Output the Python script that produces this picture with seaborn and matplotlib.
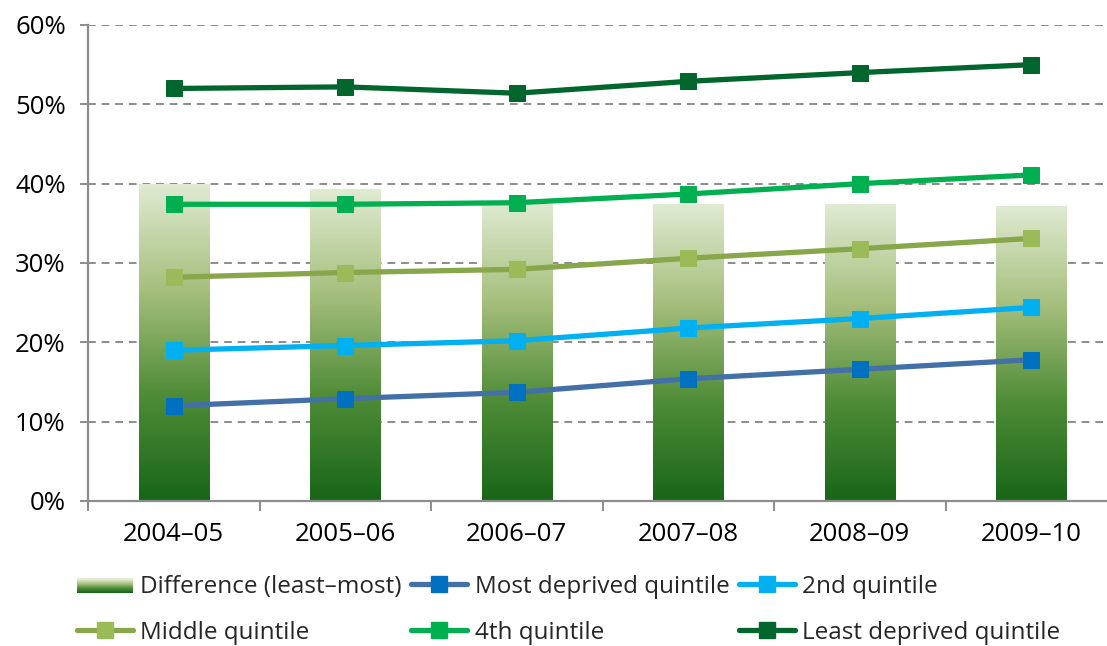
"""Difference between least and most deprived quintiles"""
import numpy as np
import pandas as pd
import matplotlib
matplotlib.use("Agg")
import matplotlib.pyplot as plt
from matplotlib.colors import LinearSegmentedColormap
from matplotlib.legend_handler import HandlerBase
from matplotlib.patches import Rectangle, Patch
from matplotlib.lines import Line2D
from matplotlib.ticker import PercentFormatter
import seaborn as sns

years = ["2004–05", "2005–06", "2006–07", "2007–08", "2008–09", "2009–10"]
most_deprived = [12.0, 12.9, 13.7, 15.4, 16.6, 17.8]
second_q = [19.0, 19.6, 20.2, 21.8, 23.0, 24.4]
middle_q = [28.2, 28.8, 29.2, 30.6, 31.8, 33.1]
fourth_q = [37.4, 37.4, 37.6, 38.7, 40.0, 41.1]
least_deprived = [52.0, 52.2, 51.4, 52.9, 54.0, 55.0]
difference = [40.0, 39.3, 37.7, 37.5, 37.4, 37.2]

# name, line colour, marker colour, values
series = [
    ("Most deprived quintile", "#4470a8", "#0070c0", most_deprived),
    ("2nd quintile", "#00b0f0", "#00b0f0", second_q),
    ("Middle quintile", "#88a64a", "#9bbb59", middle_q),
    ("4th quintile", "#00b050", "#00b050", fourth_q),
    ("Least deprived quintile", "#00662e", "#00662e", least_deprived),
]

grad = LinearSegmentedColormap.from_list(
    "bargrad", ["#186619", "#4f8c37", "#a6bf7d", "#e0ebd3"])

sns.set_style("white")
plt.rcParams["font.family"] = ["Open Sans", "DejaVu Sans"]

fig = plt.figure(figsize=(11.07, 6.46), dpi=100)
ax = fig.add_axes([88 / 1107, 145 / 646, (1117 - 88) / 1107, 476 / 646])

df = pd.DataFrame({"year": years, "diff": difference})
sns.barplot(data=df, x="year", y="diff", ax=ax, width=0.41,
            color="#a6bf7d", linewidth=0, zorder=2)

# gradient fill inside every bar
img = np.linspace(0, 1, 256).reshape(-1, 1)
for p in ax.patches:
    x0, y0 = p.get_x(), p.get_y()
    w, h = p.get_width(), p.get_height()
    p.set_facecolor("none")
    im = ax.imshow(img, cmap=grad, aspect="auto", origin="lower",
                   extent=[x0, x0 + w, y0, y0 + h], zorder=2)
    im.set_clip_path(p)

xs = np.arange(len(years))
for name, lc, mc, vals in series:
    sns.lineplot(x=xs, y=vals, ax=ax, color=lc, linewidth=3.8, marker="s",
                 markersize=11, markerfacecolor=mc, markeredgecolor=mc,
                 zorder=4, legend=False)

ax.set_xlim(-0.5, 5.5)
ax.set_ylim(0, 60)
ax.set_yticks(range(0, 61, 10))
ax.yaxis.set_major_formatter(PercentFormatter(decimals=0))
ax.set_xticks(xs)
ax.set_xticklabels(years)
ax.set_xticks(np.arange(-0.5, 6, 1), minor=True)
ax.set_xlabel("")
ax.set_ylabel("")

ax.grid(axis="y", color="#8c8c8c", linestyle=(0, (4, 3)), linewidth=1.4)
ax.set_axisbelow(True)
for s in ["top", "right"]:
    ax.spines[s].set_visible(False)
for s in ["left", "bottom"]:
    ax.spines[s].set_color("#8c8c8c")
    ax.spines[s].set_linewidth(1.6)

ax.tick_params(axis="x", which="major", length=0, pad=15, labelsize=18.5,
               colors="black")
ax.tick_params(axis="x", which="minor", length=7, width=1.4,
               color="#8c8c8c", bottom=True)
ax.tick_params(axis="y", length=6, width=1.4, color="#8c8c8c", pad=10,
               labelsize=18.5, labelcolor="black", left=True)


class GradientHandler(HandlerBase):
    def create_artists(self, legend, orig_handle, xdescent, ydescent,
                       width, height, fontsize, trans):
        arts = []
        n = 14
        y0 = -ydescent + height * 0.0
        hh = height * 0.85
        for i in range(n):
            r = Rectangle((-xdescent, y0 + i * hh / n), width, hh / n + 0.3,
                          facecolor=grad(i / (n - 1)), edgecolor="none",
                          transform=trans)
            arts.append(r)
        return arts


diff_handle = Patch(label="Difference (least–most)")
line_handles = [Line2D([], [], color=lc, linewidth=3.8, marker="s",
                       markersize=11, markerfacecolor=mc, markeredgecolor=mc,
                       solid_capstyle="round", label=name)
                for name, lc, mc, vals in series]
h = [diff_handle] + line_handles
order = [0, 3, 1, 4, 2, 5]
leg = fig.legend([h[i] for i in order], [h[i].get_label() for i in order],
                 handler_map={Patch: GradientHandler()},
                 loc="upper left", bbox_to_anchor=(77 / 1107, 1 - 575 / 646),
                 ncol=3, frameon=False, fontsize=17.5, handlelength=2.3,
                 handletextpad=0.3, columnspacing=0.4, labelspacing=0.9,
                 borderaxespad=0, borderpad=0)

fig.savefig("out.png", dpi=100)
